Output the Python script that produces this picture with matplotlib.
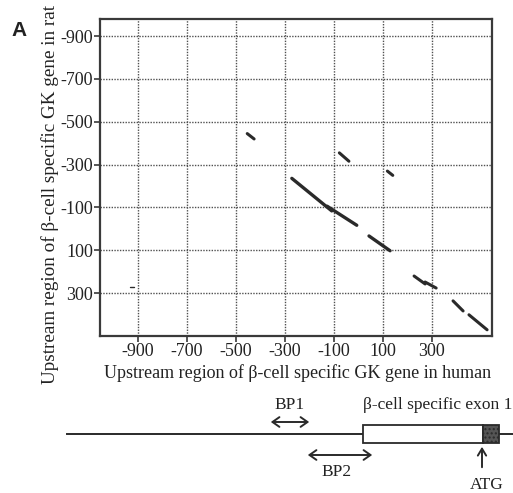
import matplotlib
matplotlib.use("Agg")
import matplotlib.pyplot as plt

plt.rcParams['font.family'] = ['Liberation Serif', 'DejaVu Serif']

# dot plot: human position (x) vs rat position (y), one entry per matching run
seg_x0 = [-454, -78, 118, -272, -128, 43, 227, 272, 386, 451, -933]
seg_x1 = [-426, -39, 140, -109, -7, 129, 272, 317, 427, 525, -915]
seg_y0 = [-445, -355, -270, -236, -106, 33, 220, 248, 336, 401, 271]
seg_y1 = [-420, -316, -250, -84, -17, 102, 257, 276, 383, 471, 271]
seg_w = [2.2, 2.2, 2.2, 2.4, 2.4, 2.4, 2.2, 2.2, 2.2, 2.2, 1.0]

xticks = [-900, -700, -500, -300, -100, 100, 300]
yticks = [-900, -700, -500, -300, -100, 100, 300]

# schematic of the promoter region (drawn in pixel space of the figure)
line_span = (67, 513)
exon_box = (363, 483)
atg_box = (483, 499)
bp1 = (268, 312)
bp2 = (305, 375)

W, H = 513, 493
fig = plt.figure(figsize=(W / 100, H / 100), dpi=100)
ax = fig.add_axes([100 / W, 1 - 336 / H, 392 / W, 317 / H])

ink = '#3a3a3a'
txt = '#222222'
for x0, x1, y0, y1, w in zip(seg_x0, seg_x1, seg_y0, seg_y1, seg_w):
    ax.plot([x0, x1], [y0, y1], color='#2a2a2a', lw=w, solid_capstyle='round')

ax.set_xlim(-1055, 545)
ax.set_ylim(500, -980)
ax.set_xticks(xticks)
ax.set_yticks(yticks)
ax.set_xticklabels([str(t) for t in xticks])
ax.set_yticklabels([str(t) for t in yticks])
ax.grid(True, color='#505050', lw=1.0, linestyle=(0, (1, 1)))
ax.tick_params(direction='out', length=4, width=1.2, color=ink, labelsize=13,
               labelcolor=txt, pad=1)
for s in ax.spines.values():
    s.set_color(ink)
    s.set_linewidth(1.6)

fig.text(298 / W, 1 - 373 / H, 'Upstream region of \u03b2-cell specific GK gene in human',
         ha='center', va='center', fontsize=13, color=txt)
fig.text(50 / W, 1 - 194 / H, 'Upstream region of \u03b2-cell specific GK gene in rat',
         rotation=90, ha='center', va='center', fontsize=13.8, color=txt)
fig.text(19 / W, 1 - 30 / H, 'A', family='Liberation Sans', weight='bold',
         fontsize=15, ha='center', va='center', color=txt)

# schematic overlay
ov = fig.add_axes([0, 0, 1, 1], facecolor='none')
ov.set_xlim(0, W)
ov.set_ylim(H, 0)
ov.axis('off')

ov.plot(line_span, [434, 434], color='#2a2a2a', lw=1.4)
ov.add_patch(plt.Rectangle((exon_box[0], 425), exon_box[1] - exon_box[0], 18,
                           facecolor='white', edgecolor='#2a2a2a', lw=1.3, zorder=3))
ov.add_patch(plt.Rectangle((atg_box[0], 425), atg_box[1] - atg_box[0], 18,
                           facecolor='#555555', edgecolor='#2a2a2a', lw=1.3,
                           hatch='....', zorder=3))
arrow2 = dict(arrowstyle='<->,head_length=0.5,head_width=0.35', color='#2a2a2a', lw=1.4)
ov.annotate('', xy=(bp1[0], 422), xytext=(bp1[1], 422), arrowprops=arrow2)
ov.annotate('', xy=(bp2[0], 455), xytext=(bp2[1], 455), arrowprops=arrow2)
ov.annotate('', xy=(482, 444), xytext=(482, 470),
            arrowprops=dict(arrowstyle='->,head_length=0.5,head_width=0.3',
                            color='#2a2a2a', lw=1.4))

ov.text(sum(bp1) / 2, 405, 'BP1', ha='center', va='center', fontsize=12.5, color=txt)
ov.text(337, 472, 'BP2', ha='center', va='center', fontsize=12.5, color=txt)
ov.text(438, 405, '\u03b2-cell specific exon 1', ha='center', va='center',
        fontsize=12.5, color=txt)
ov.text(487, 485, 'ATG', ha='center', va='center', fontsize=12.5, color=txt)

fig.savefig('out.png', dpi=100, facecolor='white')
